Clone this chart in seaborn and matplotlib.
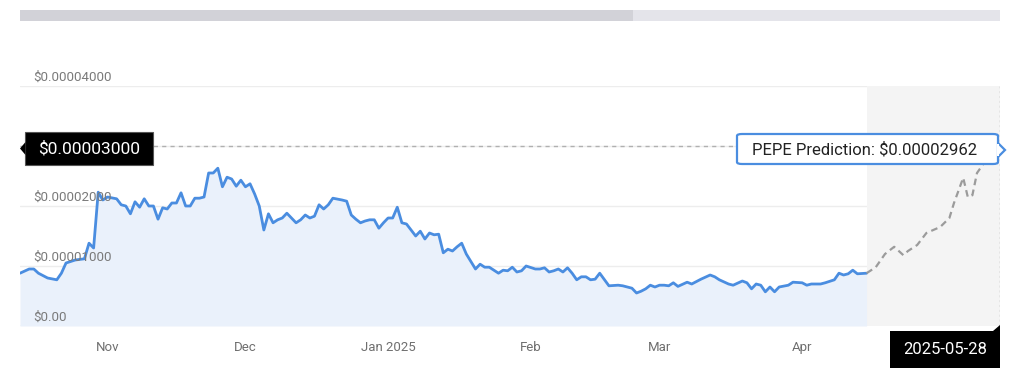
import matplotlib
matplotlib.use("Agg")
import matplotlib.pyplot as plt
import matplotlib.transforms as mtransforms
from matplotlib.patches import Rectangle, Polygon, FancyBboxPatch
import pandas as pd
import seaborn as sns

# ---------------- data ----------------
SCALE = 1e-5
hist_dates = [
    "2024-10-27", "2024-10-29", "2024-10-30", "2024-10-31", "2024-11-02", "2024-11-04", "2024-11-05",
    "2024-11-06", "2024-11-08", "2024-11-10", "2024-11-11", "2024-11-12", "2024-11-13", "2024-11-14",
    "2024-11-15", "2024-11-17", "2024-11-18", "2024-11-19", "2024-11-20", "2024-11-21", "2024-11-22",
    "2024-11-23", "2024-11-24", "2024-11-25", "2024-11-26", "2024-11-27", "2024-11-28", "2024-11-29",
    "2024-11-30", "2024-12-01", "2024-12-02", "2024-12-03", "2024-12-04", "2024-12-05", "2024-12-06",
    "2024-12-07", "2024-12-08", "2024-12-09", "2024-12-10", "2024-12-11", "2024-12-12", "2024-12-13",
    "2024-12-14", "2024-12-15", "2024-12-16", "2024-12-17", "2024-12-18", "2024-12-19", "2024-12-20",
    "2024-12-21", "2024-12-22", "2024-12-23", "2024-12-24", "2024-12-25", "2024-12-26", "2024-12-27",
    "2024-12-28", "2024-12-29", "2024-12-30", "2024-12-31", "2025-01-01", "2025-01-02", "2025-01-03",
    "2025-01-05", "2025-01-06", "2025-01-07", "2025-01-08", "2025-01-09", "2025-01-10", "2025-01-11",
    "2025-01-12", "2025-01-13", "2025-01-14", "2025-01-15", "2025-01-16", "2025-01-17", "2025-01-18",
    "2025-01-19", "2025-01-20", "2025-01-21", "2025-01-22", "2025-01-23", "2025-01-24", "2025-01-25",
    "2025-01-26", "2025-01-27", "2025-01-28", "2025-01-29", "2025-01-30", "2025-01-31", "2025-02-01",
    "2025-02-03", "2025-02-04", "2025-02-05", "2025-02-06", "2025-02-07", "2025-02-08", "2025-02-09",
    "2025-02-10", "2025-02-11", "2025-02-12", "2025-02-13", "2025-02-14", "2025-02-16", "2025-02-17",
    "2025-02-18", "2025-02-19", "2025-02-20", "2025-02-21", "2025-02-22", "2025-02-23", "2025-02-24",
    "2025-02-25", "2025-02-26", "2025-02-27", "2025-02-28", "2025-03-01", "2025-03-02", "2025-03-04",
    "2025-03-06", "2025-03-07", "2025-03-09", "2025-03-10", "2025-03-11", "2025-03-12", "2025-03-13",
    "2025-03-14", "2025-03-15", "2025-03-16", "2025-03-17", "2025-03-18", "2025-03-19", "2025-03-21",
    "2025-03-22", "2025-03-24", "2025-03-26", "2025-03-27", "2025-03-28", "2025-03-30", "2025-03-31",
    "2025-04-02", "2025-04-03", "2025-04-04", "2025-04-05", "2025-04-06", "2025-04-07", "2025-04-08",
    "2025-04-09", "2025-04-10", "2025-04-12", "2025-04-13", "2025-04-15", "2025-04-16", "2025-04-17",
    "2025-04-19", "2025-04-20", "2025-04-22", "2025-04-23", "2025-04-24", "2025-04-25", "2025-04-26",
    "2025-04-27", "2025-04-29",
]
hist_values = [
    0.88, 0.95, 0.95, 0.88, 0.80, 0.77, 0.88,
    1.05, 1.10, 1.12, 1.38, 1.30, 2.23, 2.10,
    2.15, 2.12, 2.02, 2.00, 1.87, 2.07, 1.98,
    2.12, 2.00, 2.00, 1.78, 1.97, 1.95, 2.05,
    2.05, 2.22, 2.00, 2.00, 2.13, 2.13, 2.15,
    2.55, 2.55, 2.63, 2.32, 2.48, 2.45, 2.33,
    2.43, 2.32, 2.37, 2.20, 2.00, 1.60, 1.87,
    1.72, 1.77, 1.80, 1.88, 1.80, 1.72, 1.77,
    1.85, 1.80, 1.83, 2.02, 1.95, 2.02, 2.13,
    2.10, 2.08, 1.85, 1.78, 1.72, 1.75, 1.77,
    1.77, 1.63, 1.72, 1.80, 1.80, 1.98, 1.72,
    1.70, 1.60, 1.50, 1.58, 1.45, 1.55, 1.52,
    1.53, 1.22, 1.28, 1.25, 1.32, 1.38, 1.20,
    0.95, 1.03, 0.98, 0.98, 0.93, 0.88, 0.93,
    0.92, 0.98, 0.90, 0.92, 1.00, 0.95, 0.95,
    0.97, 0.90, 0.92, 0.95, 0.90, 0.97, 0.88,
    0.77, 0.82, 0.82, 0.77, 0.78, 0.88, 0.67,
    0.68, 0.67, 0.63, 0.55, 0.58, 0.62, 0.68,
    0.65, 0.68, 0.68, 0.67, 0.72, 0.66, 0.73,
    0.70, 0.78, 0.85, 0.82, 0.77, 0.70, 0.68,
    0.75, 0.72, 0.62, 0.70, 0.68, 0.57, 0.65,
    0.57, 0.65, 0.68, 0.73, 0.72, 0.68, 0.70,
    0.70, 0.72, 0.77, 0.88, 0.85, 0.87, 0.93,
    0.87, 0.88,
]
pred_dates = [
    "2025-04-29", "2025-05-01", "2025-05-03", "2025-05-05", "2025-05-07", "2025-05-08",
    "2025-05-10", "2025-05-12", "2025-05-15", "2025-05-17", "2025-05-18", "2025-05-20",
    "2025-05-21", "2025-05-22", "2025-05-23", "2025-05-25", "2025-05-27", "2025-05-28",
]
pred_values = [
    0.88, 0.98, 1.20, 1.32, 1.18, 1.25,
    1.35, 1.55, 1.65, 1.80, 2.05, 2.47,
    2.15, 2.18, 2.55, 2.77, 2.90, 2.962,
]
month_ticks = ["2024-11-15", "2024-12-15", "2025-01-15", "2025-02-15", "2025-03-15", "2025-04-15"]
month_labels = ["Nov", "Dec", "Jan 2025", "Feb", "Mar", "Apr"]
y_ticks = [0, 1e-5, 2e-5, 3e-5, 4e-5]
y_labels = ["$0.00", "$0.00001000", "$0.00002000", "$0.00003000", "$0.00004000"]
x_start, x_end = "2024-10-27", "2025-05-28"
highlight_value = 3e-5
highlight_label = "$0.00003000"
pred_label = "PEPE Prediction: $0.00002962"
pred_date_label = "2025-05-28"

# ---------------- frames ----------------
hist = pd.DataFrame({"date": pd.to_datetime(hist_dates), "price": [v * SCALE for v in hist_values]})
pred = pd.DataFrame({"date": pd.to_datetime(pred_dates), "price": [v * SCALE for v in pred_values]})

sns.set_theme(style="white")
plt.rcParams["font.family"] = ["Roboto", "DejaVu Sans"]

W, H = 1024, 375
fig = plt.figure(figsize=(W / 100, H / 100), dpi=100)
fig.patch.set_facecolor("white")


def fx(x):
    return x / W


def fy(y):
    return 1 - y / H


ax = fig.add_axes([fx(20), fy(326), (1000 - 20) / W, (326 - 86) / H])
ax.set_facecolor("white")

# grid lines
for yt in y_ticks:
    ax.axhline(yt, color="#ededed" if yt > 0 else "#cfcfcf", lw=1, zorder=0)

# prediction background
ax.axvspan(pred["date"].iloc[0], pred["date"].iloc[-1], color="#f4f4f4", lw=0, zorder=0.5)

# area + lines
ax.fill_between(hist["date"], 0, hist["price"], color="#eaf1fb", lw=0, zorder=1)
sns.lineplot(data=hist, x="date", y="price", ax=ax, color="#4a8de0", lw=2, zorder=3)
sns.lineplot(data=pred, x="date", y="price", ax=ax, color="#9b9b9b", lw=1.6, zorder=3,
             linestyle=(0, (3.0, 2.0)))

# crosshair lines
ax.axhline(highlight_value, color="#b0b0b0", lw=1, ls=(0, (3, 3)), zorder=2)
ax.axvline(pred["date"].iloc[-1], color="#a8a8a8", lw=1, ls=(0, (1.5, 2)), zorder=2)

ax.set_xlim(pd.Timestamp(x_start), pd.Timestamp(x_end))
ax.set_ylim(0, 4e-5)
for s in ax.spines.values():
    s.set_visible(False)
ax.set_xlabel("")
ax.set_ylabel("")
ax.set_yticks([])
ax.set_xticks(pd.to_datetime(month_ticks))
ax.set_xticklabels(month_labels, color="#6f6f6f", fontsize=9.5)
ax.tick_params(axis="x", length=0, pad=10.5)

# y labels drawn inside plot, above gridlines
trans = mtransforms.blended_transform_factory(ax.transAxes, ax.transData)
for yt, lab in zip(y_ticks, y_labels):
    if yt == highlight_value:
        continue
    ax.annotate(lab, xy=(0.0135, yt), xycoords=trans, xytext=(0, 1.5), textcoords="offset points",
                ha="left", va="bottom", fontsize=9.6, color="#7a7a7a", zorder=4)

# top scroll bar
fig.patches.append(Rectangle((fx(20), fy(21)), (633 - 20) / W, 11 / H, transform=fig.transFigure,
                             facecolor="#d2d2d8", edgecolor="none"))
fig.patches.append(Rectangle((fx(633), fy(21)), (1000 - 633) / W, 11 / H, transform=fig.transFigure,
                             facecolor="#e4e4ea", edgecolor="none"))

# black y-value tag
fig.patches.append(Rectangle((fx(25), fy(165)), 128 / W, 33 / H, transform=fig.transFigure,
                             facecolor="black", edgecolor="#555555", lw=0.8, zorder=5))
fig.patches.append(Polygon([(fx(25.5), fy(142)), (fx(20), fy(148.5)), (fx(25.5), fy(155))],
                           closed=True, transform=fig.transFigure, facecolor="black",
                           edgecolor="none", zorder=5))
fig.text(fx(89), fy(149), highlight_label, color="white", fontsize=12.5, ha="center", va="center",
         zorder=6)

# prediction tooltip
fig.patches.append(FancyBboxPatch((fx(737), fy(164)), (998 - 737) / W, 30 / H,
                                  boxstyle="round,pad=0,rounding_size=0.005",
                                  transform=fig.transFigure, facecolor="white",
                                  edgecolor="#4a8de0", lw=1.6, zorder=5))
fig.patches.append(Polygon([(fx(998), fy(143)), (fx(1005), fy(150)), (fx(998), fy(157))],
                           closed=False, transform=fig.transFigure, facecolor="white",
                           edgecolor="#4a8de0", lw=1.6, zorder=6))
fig.patches.append(Rectangle((fx(996.5), fy(156)), 2.5 / W, 12 / H, transform=fig.transFigure,
                             facecolor="white", edgecolor="none", zorder=6.5))
fig.text(fx(865), fy(150), pred_label, color="#222222", fontsize=12, ha="center", va="center",
         zorder=7)

# date tag bottom right
fig.patches.append(Rectangle((fx(890), fy(368)), 110 / W, 37 / H, transform=fig.transFigure,
                             facecolor="black", edgecolor="none", zorder=5))
fig.patches.append(Polygon([(fx(993), fy(331)), (fx(1000), fy(325)), (fx(1000), fy(331))],
                           closed=True, transform=fig.transFigure, facecolor="black",
                           edgecolor="none", zorder=5))
fig.text(fx(945), fy(350), pred_date_label, color="white", fontsize=12, ha="center", va="center",
         zorder=6)

fig.savefig("out.png", dpi=100, facecolor="white")
